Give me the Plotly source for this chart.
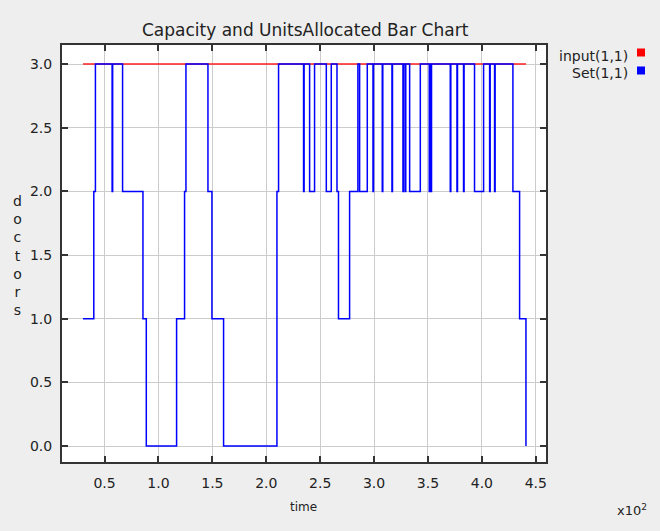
import plotly.graph_objects as go

# ---- data ----
input_time = [30, 441]
input_value = [3, 3]

set_time = [30, 40, 41.5, 57, 57.5, 66.7, 85.6, 88.7, 116.8, 124.2, 125.5,
            145.9, 149.6, 160.4, 209.9, 211.4, 234.6, 235.1, 240.2, 244.8,
            255.7, 260.3, 265.6, 267, 277.3, 285, 286.6, 293.7, 299, 299.5,
            307.6, 308.1, 316.6, 317.1, 326.8, 327.3, 328.9, 329.4, 333, 342.9,
            351.2, 351.7, 352.8, 353.3, 370.7, 371.2, 376.9, 377.4, 383, 383.5,
            393.2, 401.6, 407.2, 407.7, 411.8, 412.3, 428.8, 435, 440.9]
set_value = [1, 2, 3, 2, 3, 2, 1, 0, 1, 2, 3,
             2, 1, 0, 2, 3, 2, 3, 2, 3,
             2, 3, 2, 1, 2, 3, 2, 3, 2, 3,
             2, 3, 2, 3, 2, 3, 2, 3, 2, 3,
             2, 3, 2, 3, 2, 3, 2, 3, 2, 3,
             2, 3, 2, 3, 2, 3, 2, 1, 0]

x_tick_vals = [50, 100, 150, 200, 250, 300, 350, 400, 450]
x_tick_text = ["0.5", "1.0", "1.5", "2.0", "2.5", "3.0", "3.5", "4.0", "4.5"]
y_tick_vals = [0, 0.5, 1, 1.5, 2, 2.5, 3]
y_tick_text = ["0.0", "0.5", "1.0", "1.5", "2.0", "2.5", "3.0"]

legend_names = ["input(1,1)", "Set(1,1)"]
legend_colors = ["#FF0000", "#0000FF"]

FONT = "DejaVu Sans"
TXT = "#222222"

fig = go.Figure()
fig.add_trace(go.Scatter(x=input_time, y=input_value, mode="lines",
                         line=dict(color="#FF2020", width=1.5),
                         name=legend_names[0], showlegend=False))
fig.add_trace(go.Scatter(x=set_time, y=set_value, mode="lines",
                         line=dict(color="#0000FF", width=1.5, shape="hv"),
                         name=legend_names[1], showlegend=False))

axis_common = dict(showgrid=True, gridcolor="#CCCCCC", gridwidth=1,
                   showline=True, linecolor="#333333", linewidth=2,
                   mirror="ticks", ticks="inside", ticklen=6, tickwidth=1.5,
                   tickcolor="#333333", zeroline=False,
                   tickfont=dict(family=FONT, size=14, color=TXT))

fig.update_xaxes(range=[10.5, 459.5], tickvals=x_tick_vals, ticktext=x_tick_text,
                 ticklabelstandoff=7, **axis_common)
fig.update_yaxes(range=[-0.125, 3.15], tickvals=y_tick_vals, ticktext=y_tick_text,
                 ticklabelstandoff=5, **axis_common)

fig.update_layout(
    width=660, height=531,
    margin=dict(l=62, r=114, t=45, b=69),
    paper_bgcolor="#EEEEEE", plot_bgcolor="#FFFFFF",
    showlegend=False,
)

# pixel -> paper helpers
W0, W1 = 62, 546
H0, H1 = 45, 462
def px(xp):
    return (xp - W0) / (W1 - W0)
def py(yp):
    return (H1 - yp) / (H1 - H0)

anns = [
    dict(text="Capacity and UnitsAllocated Bar Chart", x=px(305), y=py(30),
         xanchor="center", yanchor="middle",
         font=dict(family=FONT, size=17, color=TXT)),
    dict(text="time", x=px(303), y=py(507), xanchor="center", yanchor="middle",
         font=dict(family=FONT, size=12, color=TXT)),
    dict(text="x10<sup>2</sup>", x=px(632), y=py(510), xanchor="center", yanchor="middle",
         font=dict(family=FONT, size=13, color=TXT)),
    dict(text="d<br>o<br>c<br>t<br>o<br>r<br>s", x=px(17), y=py(256),
         xanchor="center", yanchor="middle",
         font=dict(family=FONT, size=14, color=TXT)),
    dict(text=legend_names[0], x=px(630), y=py(56), xanchor="right", yanchor="middle",
         font=dict(family=FONT, size=14, color=TXT)),
    dict(text=legend_names[1], x=px(630), y=py(73), xanchor="right", yanchor="middle",
         font=dict(family=FONT, size=14, color=TXT)),
]
for a in anns:
    a.update(xref="paper", yref="paper", showarrow=False)
fig.update_layout(annotations=anns)

shapes = []
for i, c in enumerate(legend_colors):
    yc = 52.5 + i * 18
    shapes.append(dict(type="rect", xref="paper", yref="paper",
                       x0=px(637), x1=px(645), y0=py(yc + 4), y1=py(yc - 4),
                       fillcolor=c, line=dict(width=0)))
fig.update_layout(shapes=shapes)

fig.write_html("out.html", config={"displayModeBar": False},
               post_script="document.body.style.margin='0px';document.body.style.background='#EEEEEE';")
